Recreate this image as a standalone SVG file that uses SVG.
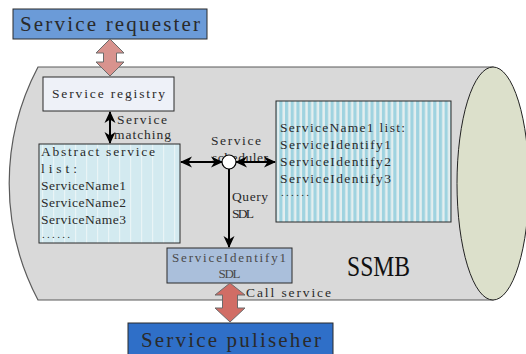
<svg xmlns="http://www.w3.org/2000/svg" width="526" height="354" viewBox="0 0 526 354">
  <style>
    .t { font-family: "Liberation Serif", "DejaVu Serif", serif; fill: #2a2a2a; }
    .box { stroke: #2b2b2b; stroke-width: 1; }
    .conn { stroke: #000; stroke-width: 2; fill: none; }
    .fat { stroke: #6b6b6b; stroke-width: 1; }
  </style>
  <defs>
    <marker id="head" viewBox="0 0 12 12" refX="11" refY="6" markerWidth="12" markerHeight="12" markerUnits="userSpaceOnUse" orient="auto-start-reverse">
      <path d="M0,0.5 L12,6 L0,11.5 L3.5,6 z" fill="#000"/>
    </marker>
    <pattern id="fineStripes" width="5.7" height="10" patternUnits="userSpaceOnUse">
      <rect width="5.7" height="10" fill="#e4eeef"/>
      <rect width="3.2" height="10" fill="#9fd3e0"/>
    </pattern>
    <pattern id="faintStripes" width="11" height="10" patternUnits="userSpaceOnUse">
      <rect width="11" height="10" fill="#d3eaf0"/>
      <rect x="9" width="1.2" height="10" fill="#e9f4f6"/>
    </pattern>
  </defs>

  <!-- bus cylinder -->
  <g id="ssmb">
    <path d="M38,67 L493,67 L493,300 L38,300 A250,250 0 0 1 38,67 z" fill="#d9d9d9" stroke="#5a5a5a" stroke-width="1.2"/>
    <ellipse cx="493" cy="183.5" rx="36" ry="116.5" fill="#dce0cb" stroke="#222" stroke-width="1"/>
    <text class="t" x="347" y="276" font-size="30" style="fill:#111" textLength="63" lengthAdjust="spacingAndGlyphs">SSMB</text>
  </g>

  <g id="requester">
    <rect class="box" x="13" y="9" width="194" height="30" fill="#6b9bd8"/>
    <text class="t" x="20" y="31" font-size="21" textLength="180" lengthAdjust="spacing">Service requester</text>
  </g>

  <g id="registry">
    <rect class="box" x="43" y="77" width="131" height="34" fill="#eef1f8"/>
    <text class="t" x="52" y="98" font-size="13.5" textLength="113" lengthAdjust="spacing">Service registry</text>
  </g>

  <g id="abstract-list">
    <rect class="box" x="39" y="144" width="141" height="99" fill="url(#faintStripes)"/>
    <g class="t" font-size="13.5">
      <text x="41" y="156" textLength="114" lengthAdjust="spacing">Abstract service</text>
      <text x="41" y="173" textLength="36" lengthAdjust="spacing">list:</text>
      <text x="41" y="190" textLength="85" lengthAdjust="spacing">ServiceName1</text>
      <text x="41" y="207" textLength="85" lengthAdjust="spacing">ServiceName2</text>
      <text x="41" y="224" textLength="85" lengthAdjust="spacing">ServiceName3</text>
      <text x="42" y="238" font-size="11" textLength="28" lengthAdjust="spacing">......</text>
    </g>
  </g>

  <g id="name-list">
    <rect class="box" x="276" y="101" width="175" height="121" fill="url(#fineStripes)"/>
    <g class="t" font-size="13.5">
      <text x="280" y="132" textLength="125" lengthAdjust="spacing">ServiceName1 list:</text>
      <text x="280" y="149" textLength="111" lengthAdjust="spacing">ServiceIdentify1</text>
      <text x="280" y="166" textLength="111" lengthAdjust="spacing">ServiceIdentify2</text>
      <text x="280" y="183" textLength="111" lengthAdjust="spacing">ServiceIdentify3</text>
      <text x="281" y="196" font-size="11" textLength="28" lengthAdjust="spacing">......</text>
    </g>
  </g>

  <g id="sdl">
    <rect class="box" x="167" y="248" width="125" height="35" fill="#aabfdb"/>
    <text class="t" x="172" y="262" font-size="13" style="fill:#4a4a4a" textLength="114" lengthAdjust="spacing">ServiceIdentify1</text>
    <text class="t" x="218.5" y="278" font-size="13" style="fill:#4a4a4a" textLength="22" lengthAdjust="spacing">SDL</text>
  </g>

  <g id="publisher">
    <rect class="box" x="128" y="323" width="205" height="34" fill="#2f6fc8"/>
    <text class="t" x="141" y="347" font-size="21" textLength="180" lengthAdjust="spacing">Service puliseher</text>
  </g>

  <g id="scheduler">
    <text class="t" x="211" y="145" font-size="13.5" textLength="50" lengthAdjust="spacing">Service</text>
    <text class="t" x="212" y="162" font-size="13.5" textLength="56" lengthAdjust="spacing">scheduler</text>
  </g>

  <g id="connectors">
    <!-- wide two-way arrows -->
    <path class="fat" fill="#d8938e" d="M110,39 L124,53 L116.5,53 L116.5,62 L124,62 L110,76 L96,62 L103.5,62 L103.5,53 L96,53 z"/>
    <path class="fat" fill="#d16d65" d="M230,283 L245,295 L237.5,295 L237.5,308 L245,308 L230,322 L215,308 L222.5,308 L222.5,295 L215,295 z"/>
    <!-- thin arrows -->
    <line class="conn" x1="110" y1="112" x2="110" y2="143" marker-start="url(#head)" marker-end="url(#head)"/>
    <line class="conn" x1="181" y1="162" x2="222" y2="162" marker-start="url(#head)" marker-end="url(#head)"/>
    <line class="conn" x1="236" y1="162" x2="275" y2="162" marker-start="url(#head)" marker-end="url(#head)"/>
    <line class="conn" x1="229" y1="169" x2="229" y2="247" marker-end="url(#head)"/>
    <circle cx="229" cy="162" r="7" fill="#fff" stroke="#000" stroke-width="1.2"/>
    <g class="t" font-size="13.5">
      <text x="117" y="124" textLength="50" lengthAdjust="spacing">Service</text>
      <text x="114" y="139" textLength="57" lengthAdjust="spacing">matching</text>
      <text x="232" y="201" textLength="36" lengthAdjust="spacing">Query</text>
      <text x="232" y="218" textLength="22" lengthAdjust="spacing">SDL</text>
      <text x="246" y="297" textLength="85" lengthAdjust="spacing">Call service</text>
    </g>
  </g>
</svg>
